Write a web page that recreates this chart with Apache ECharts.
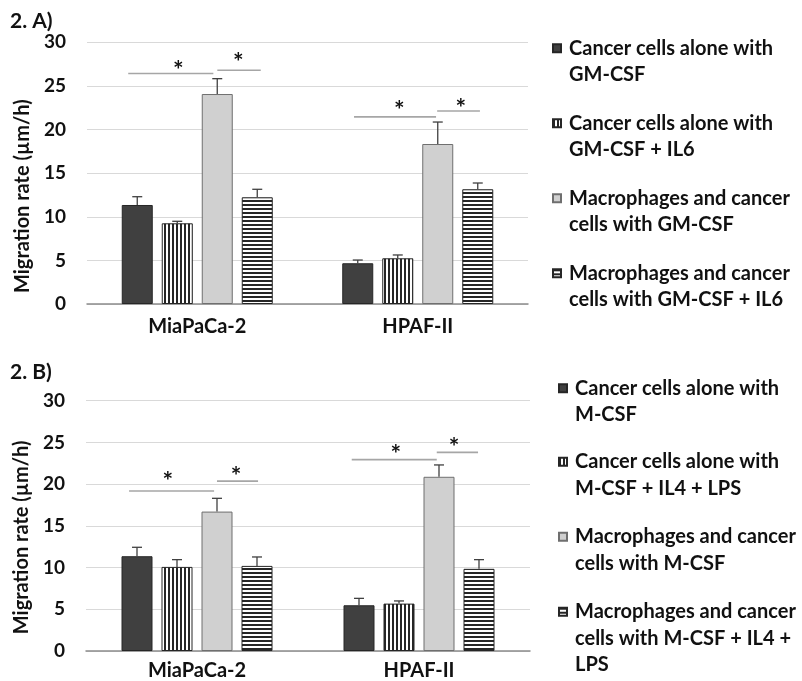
<!DOCTYPE html>
<html>
<head>
<meta charset="utf-8">
<script src="https://cdn.jsdelivr.net/npm/echarts@6/dist/echarts.min.js"></script>
<style>
html,body{margin:0;padding:0;background:#fff;}
#chart{width:802px;height:681px;}
</style>
</head>
<body>
<div id="chart"></div>
<script>
// ---------------- DATA ----------------
const categories = ['MiaPaCa-2', 'HPAF-II'];
const yMin = 0, yMax = 30, yStep = 5;

const namesA = ['Cancer cells alone with GM-CSF', 'Cancer cells alone with GM-CSF + IL6',
  'Macrophages and cancer cells with GM-CSF', 'Macrophages and cancer cells with GM-CSF + IL6'];
const legendLinesA = [['Cancer cells alone with', 'GM-CSF'], ['Cancer cells alone with', 'GM-CSF + IL6'],
  ['Macrophages and cancer', 'cells with GM-CSF'], ['Macrophages and cancer', 'cells with GM-CSF + IL6']];
const valuesA1 = [11.35, 4.67];
const valuesA2 = [9.25, 5.24];
const valuesA3 = [24.07, 18.34];
const valuesA4 = [12.23, 13.15];
const errA1 = [0.95, 0.37];
const errA2 = [0.23, 0.38];
const errA3 = [1.76, 2.52];
const errA4 = [0.92, 0.72];
// significance brackets: [x start, x end, y] in category units (0..2) and axis values
const bracketsA = [[0.187, 0.573, 26.42], [0.591, 0.788, 26.8], [1.211, 1.583, 21.45], [1.588, 1.782, 22.13]];
const starsA = [[0.414, 27.4], [0.686, 28.28], [1.416, 22.81], [1.695, 23.08]];

const namesB = ['Cancer cells alone with M-CSF', 'Cancer cells alone with M-CSF + IL4 + LPS',
  'Macrophages and cancer cells with M-CSF', 'Macrophages and cancer cells with M-CSF + IL4 + LPS'];
const legendLinesB = [['Cancer cells alone with', 'M-CSF'], ['Cancer cells alone with', 'M-CSF + IL4 + LPS'],
  ['Macrophages and cancer', 'cells with M-CSF'], ['Macrophages and cancer', 'cells with M-CSF + IL4 +', 'LPS']];
const valuesB1 = [11.36, 5.48];
const valuesB2 = [10.08, 5.68];
const valuesB3 = [16.71, 20.88];
const valuesB4 = [10.20, 9.85];
const errB1 = [1.07, 0.83];
const errB2 = [0.87, 0.32];
const errB3 = [1.59, 1.42];
const errB4 = [1.07, 1.10];
const bracketsB = [[0.194, 0.577, 19.17], [0.590, 0.775, 20.36], [1.197, 1.580, 22.94], [1.580, 1.766, 23.81]];
const starsB = [[0.369, 20.95], [0.676, 21.55], [1.395, 24.21], [1.658, 25.0]];

const titleA = '2. A)';
const titleB = '2. B)';
const yTitle = 'Migration rate (µm/h)';

// ---------------- STYLE ----------------
const FONT = 'Lato';
const TXT = '#111';
const BAR_W = 31, BAR_GAP = 9;
const LH = 26.5;

function stripes(vertical) {
  const c = document.createElement('canvas');
  c.width = 4; c.height = 4;
  const g = c.getContext('2d');
  g.fillStyle = '#ffffff'; g.fillRect(0, 0, 4, 4);
  g.fillStyle = '#262626';
  if (vertical) g.fillRect(0, 0, 2, 4); else g.fillRect(0, 0, 4, 2);
  return c;
}
const fills = [
  { color: '#404040', border: '#262626' },
  { color: { image: stripes(true), repeat: 'repeat' }, border: '#262626' },
  { color: '#d0d0d0', border: '#6f6f6f' },
  { color: { image: stripes(false), repeat: 'repeat' }, border: '#262626' }
];

const chart = echarts.init(document.getElementById('chart'));

function barSeries(names, vals, xi, yi) {
  return vals.map((v, k) => ({
    type: 'bar', name: names[k], xAxisIndex: xi, yAxisIndex: yi,
    data: v, barWidth: BAR_W, barGap: (BAR_GAP / BAR_W * 100) + '%',
    itemStyle: { color: fills[k].color, borderColor: fills[k].border, borderWidth: 1 },
    emphasis: { disabled: true }, animation: false
  }));
}
function errSeries(vals, errs, xi, yi) {
  const data = [];
  vals.forEach((v, k) => v.forEach((val, c) => data.push([c, val, errs[k][c], k])));
  return {
    type: 'custom', xAxisIndex: xi, yAxisIndex: yi, z: 5, silent: true, animation: false,
    encode: { x: 0, y: 1 },
    data: data,
    renderItem: function (params, api) {
      const c = api.value(0), v = api.value(1), e = api.value(2), k = api.value(3);
      const p0 = api.coord([c, v]), p1 = api.coord([c, v + e]);
      const x = p0[0] + (k - 1.5) * (BAR_W + BAR_GAP);
      const st = { stroke: '#404040', lineWidth: 1.3 };
      return { type: 'group', children: [
        { type: 'line', shape: { x1: x, y1: p0[1], x2: x, y2: p1[1] }, style: st },
        { type: 'line', shape: { x1: x - 5, y1: p1[1], x2: x + 5, y2: p1[1] }, style: st }
      ] };
    }
  };
}
function bracketSeries(br, xi, yi) {
  return {
    type: 'custom', xAxisIndex: xi, yAxisIndex: yi, silent: true, animation: false,
    encode: { x: [0, 1], y: 2 }, data: br,
    renderItem: function (params, api) {
      const a = api.coord([api.value(0), api.value(2)]);
      const b = api.coord([api.value(1), api.value(2)]);
      return { type: 'line', shape: { x1: a[0], y1: a[1], x2: b[0], y2: b[1] },
        style: { stroke: '#a6a6a6', lineWidth: 1.6 } };
    }
  };
}
function starSeries(st, xi, yi) {
  return {
    type: 'custom', xAxisIndex: xi, yAxisIndex: yi, silent: true, animation: false,
    encode: { x: 0, y: 1 }, data: st,
    renderItem: function (params, api) {
      const p = api.coord([api.value(0), api.value(1)]);
      return { type: 'text', x: p[0], y: p[1] + 6,
        style: { text: '*', fill: TXT, font: 'bold 25px ' + FONT, textAlign: 'center', textVerticalAlign: 'middle' } };
    }
  };
}

// Legend text block is centred on the icon; blank lines in front of the text
// put the first line level with the icon, as in the reference.
function legends(names, lines, left, centers) {
  return names.map((n, i) => {
    const nl = lines[i].length;
    const blank = new Array(nl - 1).fill(' ');
    return {
      data: [n], left: left, top: centers[i] - (2 * nl - 1) * LH / 2,
      orient: 'vertical', padding: 0, itemWidth: 8, itemHeight: 8, icon: 'rect',
      selectedMode: false,
      formatter: () => blank.concat(lines[i]).join('\n'),
      textStyle: { fontFamily: FONT, fontWeight: 'bold', fontSize: 20, color: TXT,
        lineHeight: LH, padding: [0, 0, 0, 3] }
    };
  });
}

const grids = [
  { left: 87, top: 42.3, width: 441, height: 261.7 },
  { left: 86, top: 400.7, width: 444, height: 252 }
];

function catAxis(gi, margin) {
  return {
    type: 'category', gridIndex: gi, data: categories,
    axisLine: { lineStyle: { color: '#8c8c8c', width: 1.5 } },
    axisTick: { show: false },
    axisLabel: { fontFamily: FONT, fontWeight: 'bold', fontSize: 20, color: TXT, margin: margin }
  };
}
function hiddenAxis(gi) {
  return { type: 'value', gridIndex: gi, min: 0, max: categories.length, show: false };
}
function valAxis(gi, shiftPad) {
  return {
    type: 'value', gridIndex: gi, min: yMin, max: yMax, interval: yStep,
    name: yTitle, nameLocation: 'middle', nameGap: 54,
    nameTextStyle: { fontFamily: FONT, fontWeight: 'bold', fontSize: 20, color: TXT, padding: [0, shiftPad, 0, 0] },
    axisLine: { show: false }, axisTick: { show: false },
    axisLabel: { fontFamily: FONT, fontWeight: 'bold', fontSize: 19, color: TXT, margin: 21 },
    splitLine: { lineStyle: { color: '#d9d9d9', width: 1 } }
  };
}

const option = {
  backgroundColor: '#ffffff',
  animation: false,
  grid: grids,
  xAxis: [catAxis(0, 13), hiddenAxis(0), catAxis(1, 10), hiddenAxis(1)],
  yAxis: [valAxis(0, 46), valAxis(1, 23)],
  legend: legends(namesA, legendLinesA, 552, [48.3, 123.3, 198.3, 273.3])
    .concat(legends(namesB, legendLinesB, 558, [388.3, 461.7, 536.7, 611.7])),
  graphic: [
    { type: 'text', left: 10, top: 11, style: { text: titleA, font: 'bold 21px ' + FONT, fill: TXT } },
    { type: 'text', left: 10, top: 362, style: { text: titleB, font: 'bold 21px ' + FONT, fill: TXT } }
  ],
  series: [].concat(
    barSeries(namesA, [valuesA1, valuesA2, valuesA3, valuesA4], 0, 0),
    [errSeries([valuesA1, valuesA2, valuesA3, valuesA4], [errA1, errA2, errA3, errA4], 0, 0),
     bracketSeries(bracketsA, 1, 0), starSeries(starsA, 1, 0)],
    barSeries(namesB, [valuesB1, valuesB2, valuesB3, valuesB4], 2, 1),
    [errSeries([valuesB1, valuesB2, valuesB3, valuesB4], [errB1, errB2, errB3, errB4], 2, 1),
     bracketSeries(bracketsB, 3, 1), starSeries(starsB, 3, 1)]
  )
};
chart.setOption(option);
</script>
</body>
</html>
